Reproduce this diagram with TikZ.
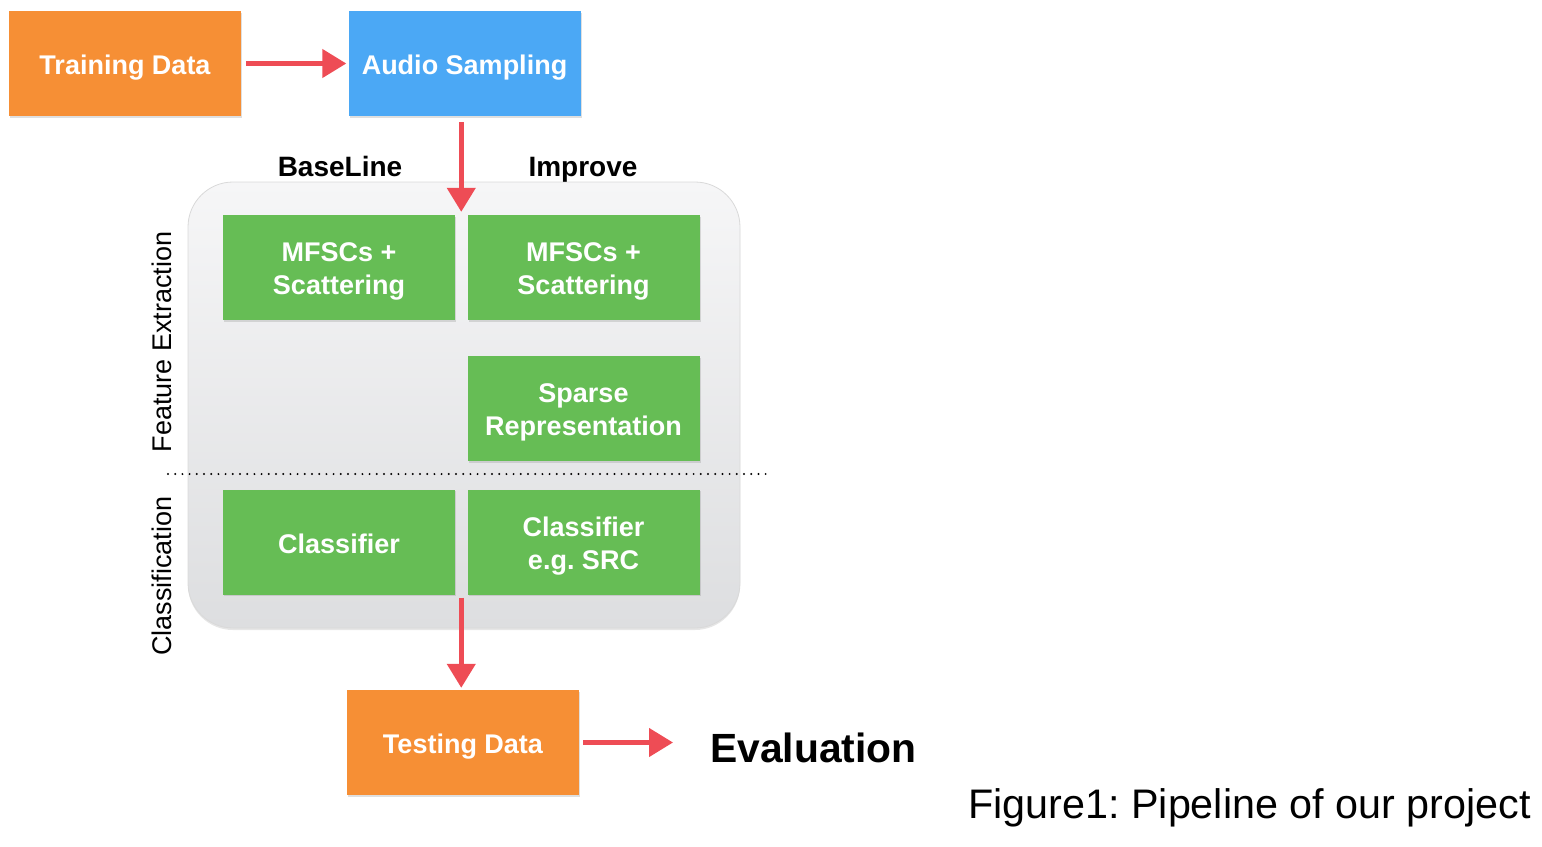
\documentclass[tikz,border=0pt]{standalone}
\usepackage{fontspec}
\setmainfont{Liberation Sans}
\usepackage{tikz}
\usetikzlibrary{positioning, calc, arrows.meta, shadows}

\definecolor{boxorange}{HTML}{F68F35}
\definecolor{boxblue}{HTML}{4BA8F5}
\definecolor{boxgreen}{HTML}{66BD55}
\definecolor{arrred}{HTML}{EE4C55}
\definecolor{paneltop}{HTML}{F6F6F7}
\definecolor{panelbot}{HTML}{DDDEE0}

% strut for the box lines
\newcommand{\bxs}{\rule[-5pt]{0pt}{32pt}}
\frenchspacing

\begin{document}
\begin{tikzpicture}[x=1pt,y=-1pt,
     box/.style={rectangle, fill=#1, text=white, align=center,
        minimum width=232pt, minimum height=105pt, inner sep=0pt,
        font=\fontsize{27}{33}\selectfont\bfseries,
        drop shadow={shadow xshift=1pt, shadow yshift=-1.5pt, opacity=.25}},
     arr/.style={draw=arrred, line width=4.5pt,
        -{Triangle[length=24pt,width=28pt]}},
     head/.style={anchor=base, font=\fontsize{28}{33}\selectfont\bfseries},
     side/.style={rotate=90, font=\fontsize{27}{33}\selectfont}]

  \useasboundingbox (0,0) rectangle (1542,846);

  % background panel
  \node[rectangle, rounded corners=45pt, draw=black!15, line width=.8pt,
        top color=paneltop, bottom color=panelbot,
        minimum width=552pt, minimum height=446pt,
        drop shadow={shadow xshift=0pt, shadow yshift=-2pt, opacity=.2}]
        (panel) at (464,405) {};

  \node[box=boxorange] (train) at (125,63.5) {\bxs Training Data};
  \node[box=boxblue] (audio) at (464.5,63.5) {\bxs Audio Sampling};

  \node[head] (baseline) at (340,176) {BaseLine};
  \node[head] (improve) at (583,176) {Improve};

  \node[box=boxgreen] (base1) at (339,267.5) {\bxs MFSCs +\\\bxs Scattering};
  \node[box=boxgreen] (imp1) at (583.5,267.5) {\bxs MFSCs +\\\bxs Scattering};
  \node[box=boxgreen] (sparse) at (583.5,408.5) {\bxs Sparse\\\bxs Representation};
  \node[box=boxgreen] (base2) at (339,542) {\bxs Classifier};
  \node[box=boxgreen] (imp2) at (583.5,542) {\bxs Classifier\\\bxs e.g. SRC};

  \coordinate (dotl) at (168,474);
  \coordinate (dotr) at (768,474);
  \draw[line width=2.2pt, dash pattern=on 0pt off 7.2pt, line cap=round]
     (dotl) -- (dotr);

  \node[side] (featlbl) at (162,342) {Feature Extraction};
  \node[side] (classlbl) at (162,576) {Classification};

  \node[box=boxorange] (test) at (463,742.5) {\bxs Testing Data};
  \node[anchor=base west, inner sep=0pt, font=\fontsize{40.8}{44}\selectfont\bfseries]
     (eval) at (710,762.5) {Evaluation};
  \node[anchor=base east, inner sep=0pt, font=\fontsize{41.3}{44}\selectfont]
     (caption) at (1531,818) {Figure1: Pipeline of our project};

  \coordinate (gapt) at ($(base1.north east)!.5!(imp1.north west)$);
  \coordinate (gapb) at ($(base2.south east)!.5!(imp2.south west)$);

  \draw[arr, shorten <=5pt, shorten >=2pt] (train.east) -- (audio.west);
  \draw[arr, shorten <=6pt, shorten >=3pt] (audio.south -| gapt) -- (gapt);
  \draw[arr, shorten <=3pt, shorten >=2pt] (gapb) -- (gapb |- test.north);
  \draw[arr, shorten <=4pt, shorten >=37pt] (test.east) -- (test.east -| eval.west);
\end{tikzpicture}
\end{document}
